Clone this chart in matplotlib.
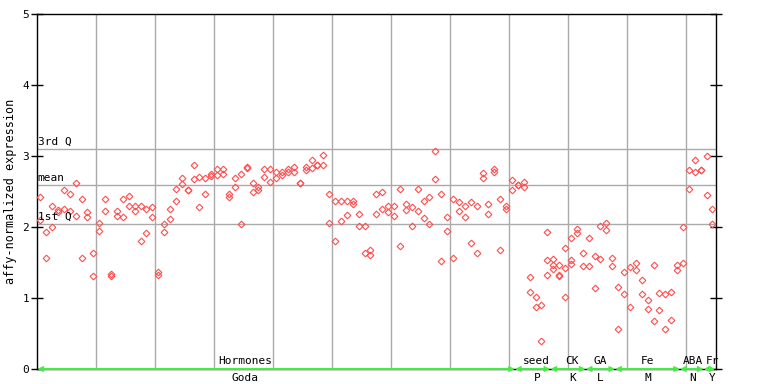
import matplotlib
matplotlib.use("Agg")
import matplotlib.pyplot as plt

# expression values read per sample column (two probes, a few columns have a third)
probe_a = [2.42, 1.93, 2.30, 2.24, 2.52, 2.46, 2.62, 2.39, 2.21, 1.63,
           2.05, 2.39, 1.34, 2.22, 2.39, 2.43, 2.30, 2.29, 2.26, 2.28,
           1.36, 2.04, 2.26, 2.53, 2.69, 2.52, 2.88, 2.70, 2.69, 2.74,
           2.81, 2.81, 2.47, 2.69, 2.74, 2.85, 2.62, 2.57, 2.81, 2.81,
           2.77, 2.78, 2.81, 2.85, 2.62, 2.85, 2.94, 2.88, 3.01, 2.46,
           2.36, 2.36, 2.36, 2.36, 2.18, 2.02, 1.67, 2.47, 2.50, 2.30,
           2.29, 2.53, 2.33, 2.28, 2.54, 2.36, 2.42, 3.07, 2.47, 2.14,
           2.39, 2.35, 2.30, 2.35, 2.29, 2.76, 2.32, 2.81, 2.39, 2.30,
           2.66, 2.59, 2.64, 1.29, 1.01, 0.90, 1.93, 1.55, 1.46, 1.71,
           1.84, 1.97, 1.63, 1.85, 1.59, 2.02, 2.05, 1.57, 1.15, 1.36,
           1.43, 1.50, 1.26, 0.97, 1.47, 1.07, 1.05, 1.08, 1.46, 2.00,
           2.80, 2.95, 2.80, 3.00, 2.25]
probe_b = [2.10, 1.57, 2.00, 2.21, 2.25, 2.23, 2.15, 1.57, 2.14, 1.31,
           1.94, 2.23, 1.31, 2.15, 2.14, 2.30, 2.22, 1.80, 1.91, 2.14,
           1.33, 1.93, 2.11, 2.37, 2.60, 2.52, 2.67, 2.28, 2.47, 2.72,
           2.73, 2.74, 2.42, 2.56, 2.04, 2.83, 2.50, 2.52, 2.70, 2.64,
           2.69, 2.73, 2.78, 2.78, 2.62, 2.80, 2.83, 2.88, 2.87, 2.05,
           1.80, 2.09, 2.17, 2.33, 2.02, 1.64, 1.61, 2.18, 2.26, 2.21,
           2.15, 1.73, 2.24, 2.02, 2.22, 2.12, 2.04, 2.67, 1.52, 1.94,
           1.57, 2.23, 2.14, 1.77, 1.64, 2.69, 2.18, 2.77, 1.67, 2.26,
           2.52, 2.59, 2.57, 1.09, 0.88, 0.39, 1.53, 1.46, 1.33, 1.42,
           1.54, 1.91, 1.45, 1.45, 1.14, 1.55, 1.96, 1.45, 0.56, 1.05,
           0.88, 1.39, 1.05, 0.85, 0.67, 0.83, 0.57, 0.69, 1.39, 1.50,
           2.54, 2.77, 2.80, 2.45, 2.04]
extra_idx = [86, 87, 88, 89, 90]
extra_val = [1.33, 1.41, 1.31, 1.02, 1.48]

groups_top = ["Hormones", "seed", "CK", "GA", "Fe", "ABA", "Fr"]
groups_bottom = ["Goda", "P", "K", "L", "M", "N", "Y"]
group_sizes = [81, 6, 6, 5, 11, 4, 2]
label_pos = [34.7, 84.2, 90.2, 95.0, 103.0, 110.7, 114.0]

q1, q_mean, q3 = 2.04, 2.59, 3.10

red = "#ff4d4d"
grey = "#aaaaaa"
green = "#44ee44"
mono = "DejaVu Sans Mono"

fig = plt.figure(figsize=(7.68, 3.84), dpi=100)
ax = fig.add_axes([37 / 768, 15 / 384, 679 / 768, 355 / 384])

n = len(probe_a)
xs = list(range(n))
style = dict(linestyle="none", marker="D", markersize=3.4, markerfacecolor="none",
             markeredgecolor=red, markeredgewidth=0.8, clip_on=False, zorder=3)
ax.plot(xs, probe_a, **style)
ax.plot(xs, probe_b, **style)
ax.plot(extra_idx, extra_val, **style)

ax.set_xlim(-0.56, n - 0.4)
ax.set_ylim(0, 5)

for gx in range(10, n, 10):
    ax.axvline(gx - 0.5, color=grey, lw=1.0, zorder=1)
for qv, name in [(q3, "3rd Q"), (q_mean, "mean"), (q1, "1st Q")]:
    ax.axhline(qv, color=grey, lw=1.0, zorder=1)
    ax.text(-0.45, qv + 0.03, name, fontsize=8, family=mono, va="bottom", ha="left")

# group arrows and labels along the bottom
start = -0.5
for size in group_sizes:
    end = start + size
    ax.annotate("", xy=(end, 0), xytext=(start, 0), annotation_clip=False,
                arrowprops=dict(arrowstyle="<->", color=green, lw=1.4,
                                shrinkA=0, shrinkB=0, mutation_scale=7), zorder=4)
    start = end
ax.set_xticks([])
for top, bottom, lp in zip(groups_top, groups_bottom, label_pos):
    ax.text(lp, 0.04, top, fontsize=8, family=mono, ha="center", va="bottom")
    ax.text(lp, -0.06, bottom, fontsize=8, family=mono, ha="center", va="top", clip_on=False)

ax.set_yticks([0, 1, 2, 3, 4, 5])
ax.tick_params(axis="y", direction="inout", length=9, width=1, labelsize=8, pad=1)
ax.tick_params(axis="y", which="both", right=True)
for lab in ax.get_yticklabels():
    lab.set_family(mono)
ax.set_ylabel("affy-normalized expression", fontsize=8.5, family=mono, labelpad=4)
for sp in ax.spines.values():
    sp.set_color("black")
    sp.set_linewidth(1.0)

fig.savefig("out.png", dpi=100)
